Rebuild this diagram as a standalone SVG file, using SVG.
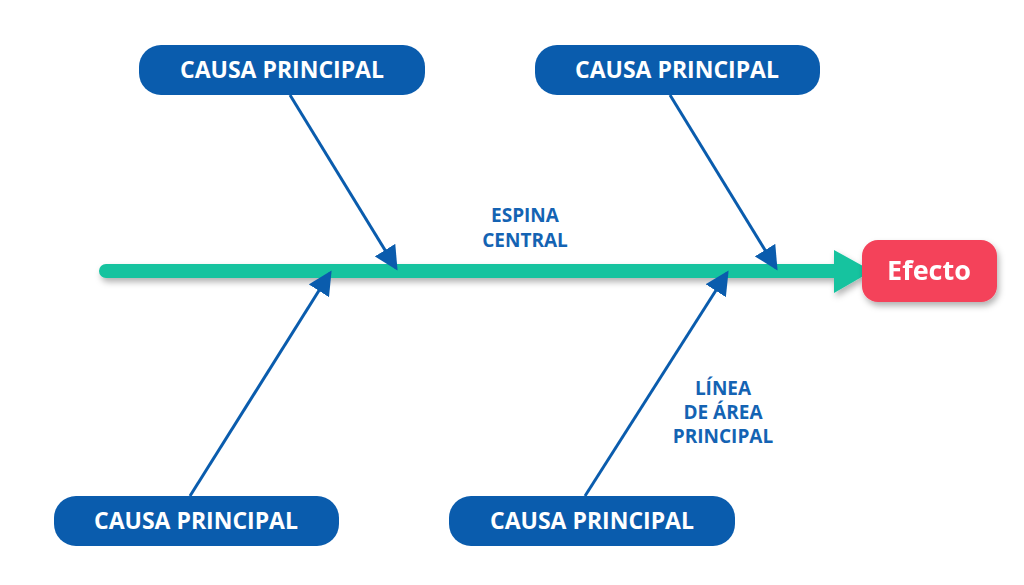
<svg xmlns="http://www.w3.org/2000/svg" width="1024" height="585" viewBox="0 0 1024 585">
<style>
.box{fill:#0a5cad}
.bt{fill:#fff;font-family:"Open Sans","Liberation Sans",sans-serif;font-weight:700;font-size:23px;text-anchor:middle}
.lbl{fill:#1463b3;font-family:"Open Sans","Liberation Sans",sans-serif;font-weight:700;font-size:19px;text-anchor:middle}
.br{stroke:#0a5cad;stroke-width:3;fill:none;marker-end:url(#ah)}
</style>
<defs>
<marker id="ah" markerWidth="8" markerHeight="8" refX="7" refY="4" orient="auto" markerUnits="strokeWidth"><path d="M0,0 L8,4 L0,8 Z" fill="#0a5cad"/></marker>
<filter id="sh" x="-20%" y="-50%" width="140%" height="200%"><feDropShadow dx="2" dy="4" stdDeviation="3" flood-opacity="0.3"/></filter>
</defs>
<g id="connectors">
<g filter="url(#sh)">
<line x1="106" y1="271" x2="840" y2="271" stroke="#14c39f" stroke-width="14" stroke-linecap="round"/>
<path d="M834,250 L872,271 L834,293 Z" fill="#14c39f"/>
</g>
<line class="br" x1="290" y1="95" x2="396" y2="268"/>
<line class="br" x1="670" y1="95" x2="776" y2="268"/>
<line class="br" x1="190" y1="496" x2="330" y2="273"/>
<line class="br" x1="585" y1="496" x2="727" y2="273"/>
</g>
<g id="n1"><rect class="box" x="139" y="45" width="286" height="50" rx="22"/><text class="bt" x="282" y="78">CAUSA PRINCIPAL</text></g>
<g id="n2"><rect class="box" x="535" y="45" width="285" height="50" rx="22"/><text class="bt" x="677" y="78">CAUSA PRINCIPAL</text></g>
<g id="n3"><rect class="box" x="54" y="496" width="285" height="50" rx="22"/><text class="bt" x="196" y="529">CAUSA PRINCIPAL</text></g>
<g id="n4"><rect class="box" x="449" y="496" width="286" height="50" rx="22"/><text class="bt" x="592" y="529">CAUSA PRINCIPAL</text></g>
<g id="efecto" filter="url(#sh)"><rect x="862" y="240" width="135" height="62" rx="16" fill="#f4425a"/><text x="929" y="280" fill="#fff" font-family="Open Sans, Liberation Sans, sans-serif" font-weight="700" font-size="27" text-anchor="middle">Efecto</text></g>
<g id="espina"><text class="lbl" x="525" y="222">ESPINA</text><text class="lbl" x="525" y="247">CENTRAL</text></g>
<g id="linea"><text class="lbl" x="723" y="395">LÍNEA</text><text class="lbl" x="723" y="419">DE ÁREA</text><text class="lbl" x="723" y="443">PRINCIPAL</text></g>
</svg>
